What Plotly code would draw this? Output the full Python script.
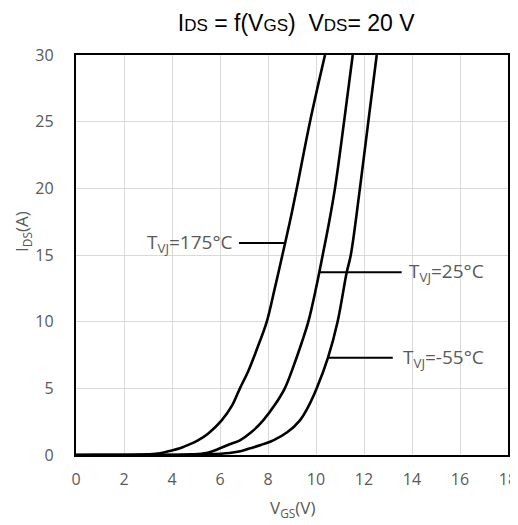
import plotly.graph_objects as go

# ---- data ----
v_175 = [0, 1, 2, 3, 3.5, 3.9, 4.33, 4.8, 5.08, 5.5, 6.07, 6.5, 6.83, 7.18, 7.55, 7.95, 8.27, 8.6, 8.9, 9.2, 9.75, 10.375]
i_175 = [0, 0.02, 0.02, 0.05, 0.12, 0.3, 0.5, 0.85, 1.1, 1.6, 2.6, 3.7, 5, 6.3, 8.0, 10, 12.4, 15, 17.4, 20, 25, 30]

v_25 = [0, 2, 4, 4.8, 5.44, 6.0, 6.4, 6.83, 7.3, 7.8, 8.3, 8.7, 9.03, 9.4, 9.68, 10.0, 10.28, 10.55, 10.79, 11.17, 11.53]
i_25 = [0, 0, 0.02, 0.05, 0.15, 0.5, 0.8, 1.1, 1.7, 2.6, 3.8, 5.0, 6.5, 8.4, 10, 12.5, 15, 17.5, 20, 25, 30]

v_m55 = [0, 2, 4, 5.5, 6.4, 6.9, 7.25, 7.7, 8.22, 8.8, 9.33, 9.7, 10.03, 10.5, 10.9, 11.28, 11.45, 11.83, 12.18, 12.53]
i_m55 = [0, 0, 0, 0.05, 0.15, 0.3, 0.5, 0.75, 1.1, 1.7, 2.6, 3.7, 5, 7.3, 10, 13.7, 15, 20, 25, 30]

curve_labels = ["T<sub>VJ</sub>=175°C", "T<sub>VJ</sub>=25°C", "T<sub>VJ</sub>=-55°C"]
# leader lines: (x_start, x_end) and y, plus label anchor x
leader_x = [[6.79, 8.72], [10.15, 13.57], [10.5, 13.2]]
leader_y = [15.9, 13.7, 7.3]
label_x = [6.63, 13.8, 13.55]
label_anchor = ["right", "left", "left"]

x_ticks = list(range(0, 19, 2))
y_ticks = list(range(0, 31, 5))

fig = go.Figure()
for vx, iy in [(v_175, i_175), (v_25, i_25), (v_m55, i_m55)]:
    fig.add_trace(go.Scatter(x=vx, y=iy, mode="lines",
                             line=dict(color="black", width=2.6, shape="spline", smoothing=1.0),
                             hoverinfo="skip", showlegend=False))

for lx, ly in zip(leader_x, leader_y):
    fig.add_trace(go.Scatter(x=lx, y=[ly, ly], mode="lines",
                             line=dict(color="black", width=2),
                             hoverinfo="skip", showlegend=False))

label_font = dict(family="Open Sans", size=19, color="#595959")
for txt, lx, ly, anc in zip(curve_labels, label_x, leader_y, label_anchor):
    fig.add_annotation(x=lx, y=ly, text=txt, showarrow=False, xanchor=anc, yanchor="middle",
                       font=label_font)

tick_font = dict(family="Open Sans", size=16, color="#595959")
title_font = dict(family="Open Sans", size=17, color="#595959")

# axis titles as annotations for precise placement
fig.add_annotation(xref="paper", yref="paper", x=0.5, y=-0.1325, text="V<sub>GS</sub>(V)",
                   showarrow=False, xanchor="center", yanchor="middle", font=title_font)
fig.add_annotation(xref="paper", yref="paper", x=-0.125, y=0.5575, text="I<sub>DS</sub>(A)",
                   showarrow=False, xanchor="center", yanchor="middle", textangle=-90, font=title_font)

# the page body adds an 8px offset; size/margins compensate so the plot area lands where the reference has it
fig.update_layout(
    width=510, height=517,
    margin=dict(l=68, r=10, t=47, b=70),
    plot_bgcolor="white", paper_bgcolor="white",
    title=dict(text="I<span style='font-size:17px'>DS</span> = f(V<span style='font-size:17px'>GS</span>)  "
                    "V<span style='font-size:17px'>DS</span>= 20 V",
               x=0.565, xanchor="center", y=0.972, yanchor="middle",
               font=dict(family="Liberation Sans", size=23, color="black")),
    xaxis=dict(range=[0, 18], tickvals=x_ticks, ticktext=[str(t) for t in x_ticks],
               showgrid=True, gridcolor="#d9d9d9", gridwidth=1.3,
               showline=True, linecolor="black", linewidth=2.4, mirror=True,
               zeroline=False, ticks="", ticklabelstandoff=9, tickfont=tick_font,
               ticklabeloverflow="allow", automargin=False),
    yaxis=dict(range=[0, 30], tickvals=y_ticks, ticktext=[str(t) for t in y_ticks],
               showgrid=True, gridcolor="#d9d9d9", gridwidth=1.3,
               showline=True, linecolor="black", linewidth=2.4, mirror=True,
               zeroline=False, ticks="", ticklabelstandoff=17, tickfont=tick_font,
               ticklabeloverflow="allow", automargin=False),
)

fig.write_html("out.html")
